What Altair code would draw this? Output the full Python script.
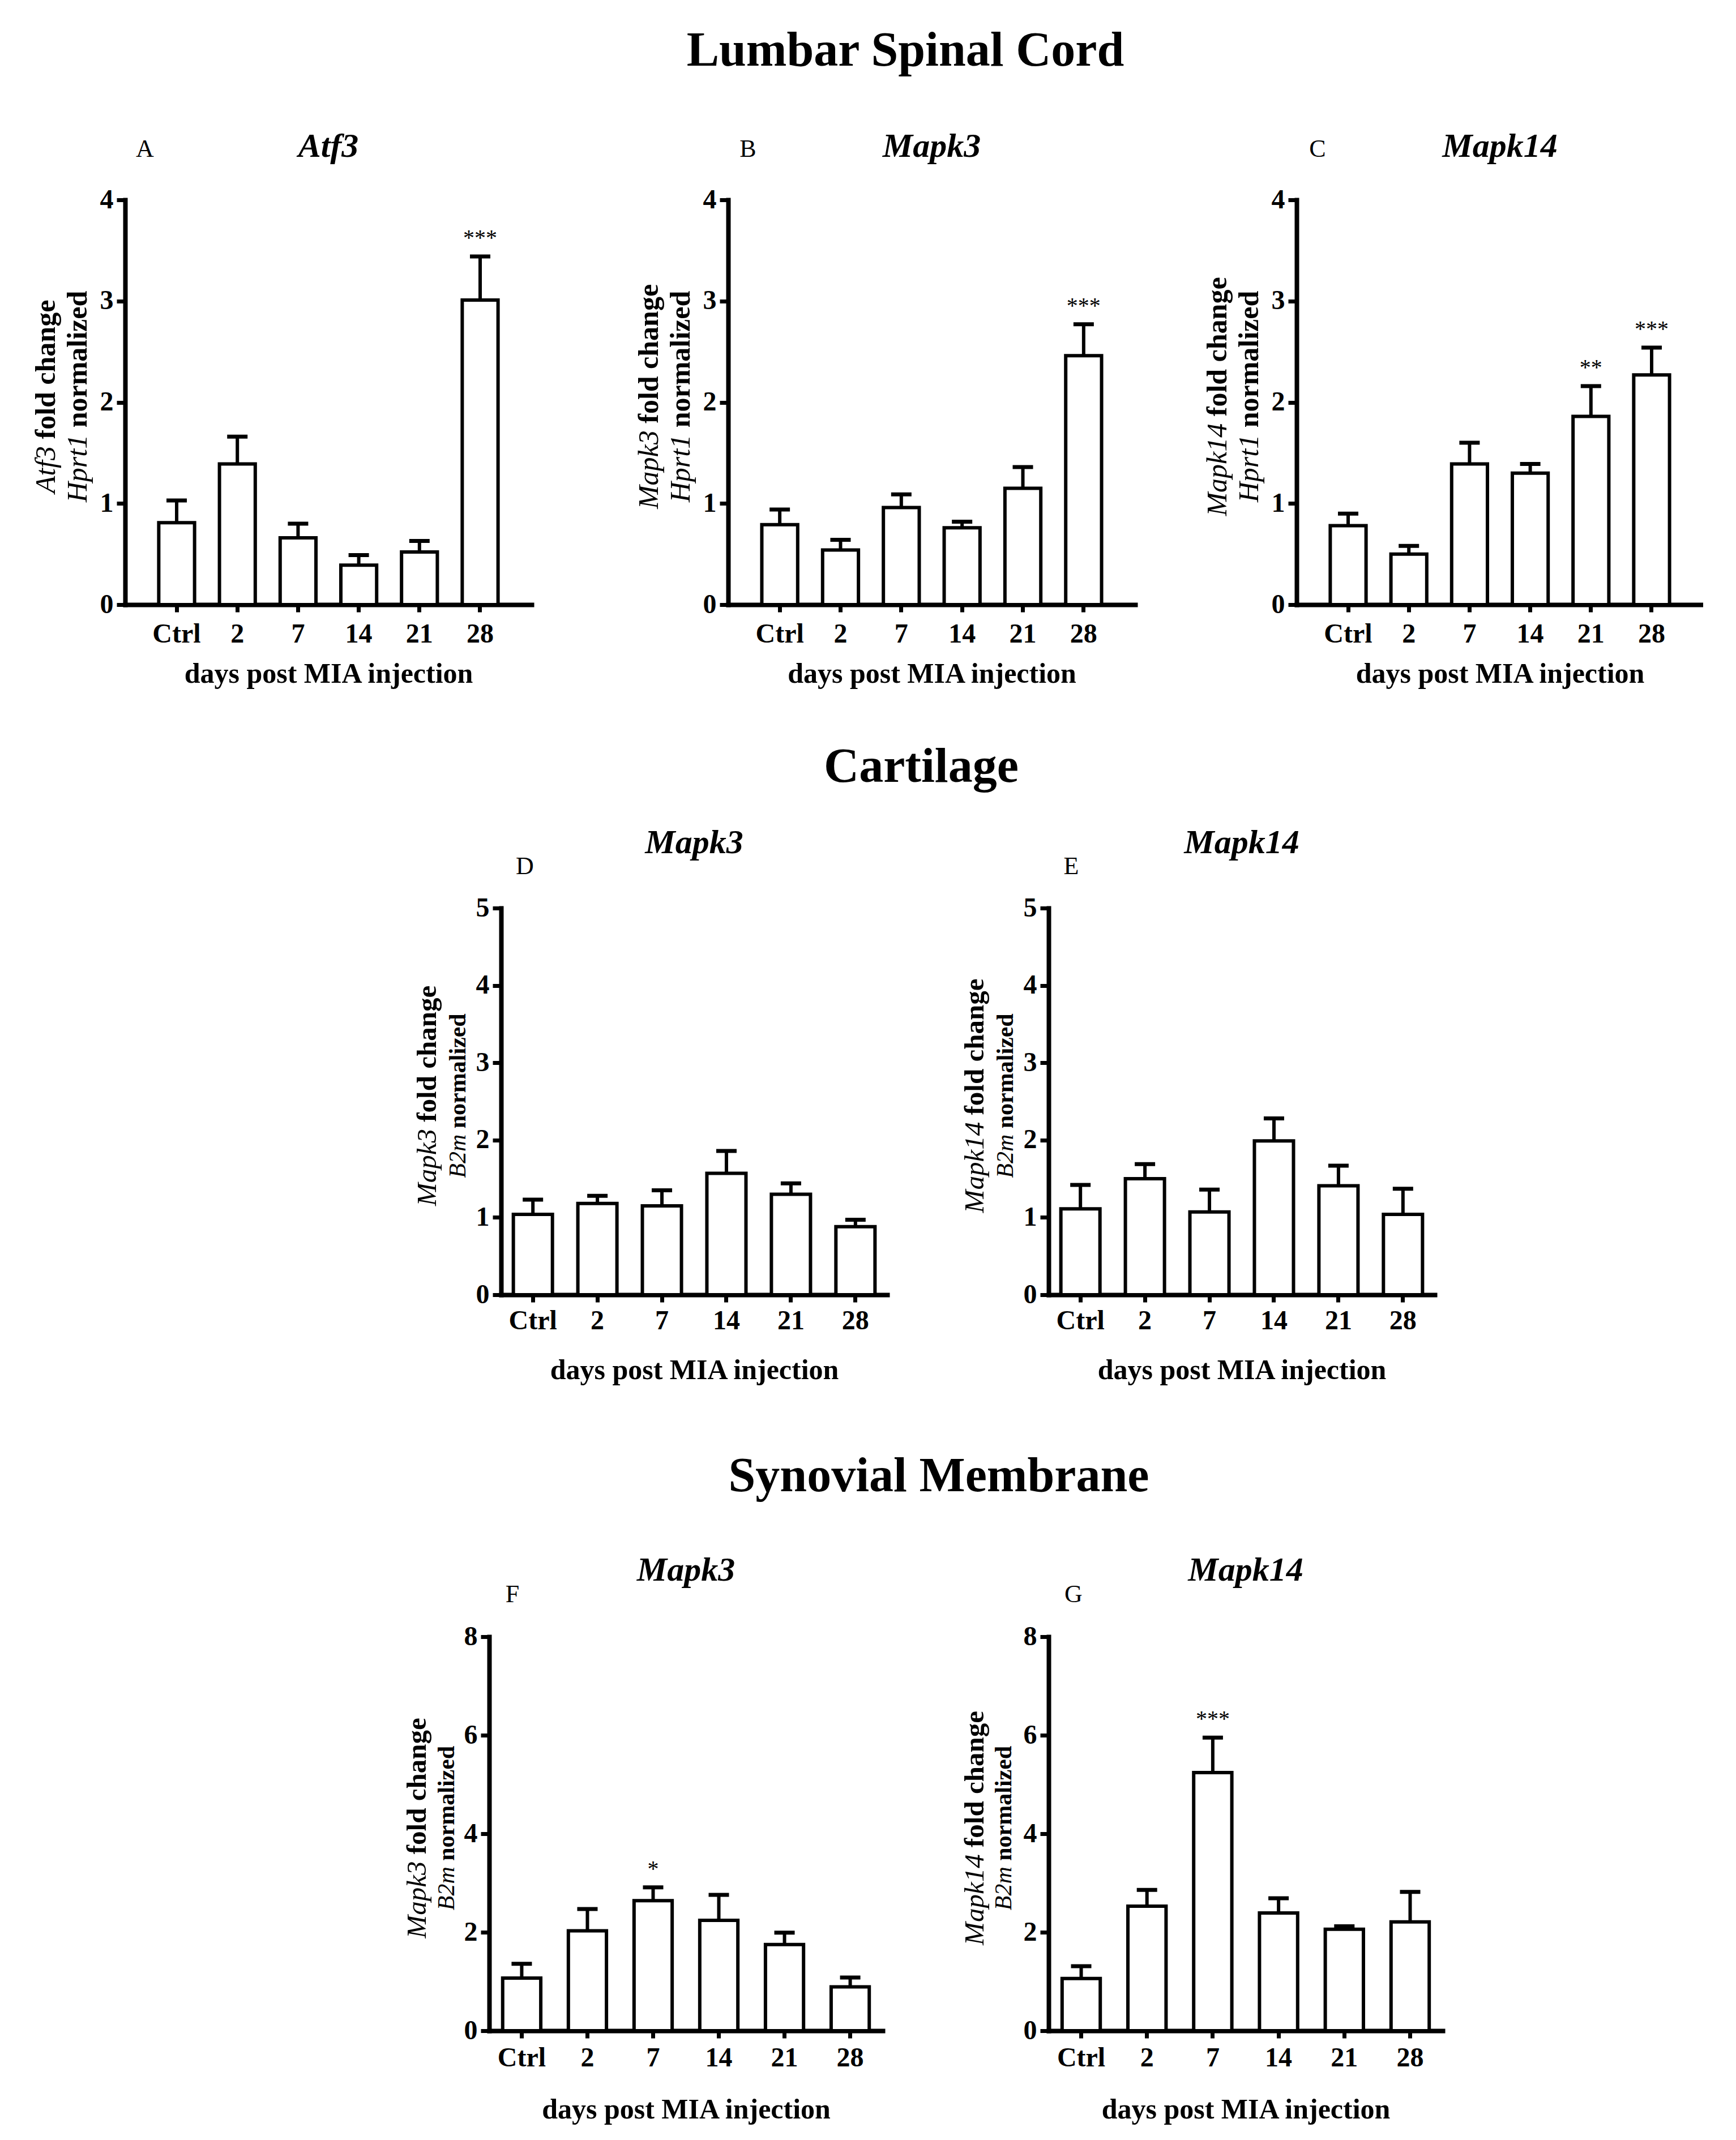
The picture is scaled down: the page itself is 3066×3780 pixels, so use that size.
import altair as alt
import pandas as pd

FONT = "Liberation Serif"

# ---------------- data ----------------
days = ["Ctrl", "2", "7", "14", "21", "28"]

# Lumbar spinal cord (Hprt1 normalized)
atf3_lsc_mean = [0.81, 1.39, 0.66, 0.39, 0.52, 3.01]
atf3_lsc_top = [1.03, 1.66, 0.80, 0.49, 0.63, 3.44]
atf3_lsc_sig = ["", "", "", "", "", "***"]

mapk3_lsc_mean = [0.79, 0.54, 0.96, 0.76, 1.15, 2.46]
mapk3_lsc_top = [0.94, 0.64, 1.09, 0.82, 1.36, 2.77]
mapk3_lsc_sig = ["", "", "", "", "", "***"]

mapk14_lsc_mean = [0.78, 0.50, 1.39, 1.30, 1.86, 2.27]
mapk14_lsc_top = [0.90, 0.58, 1.60, 1.39, 2.16, 2.54]
mapk14_lsc_sig = ["", "", "", "", "**", "***"]

# Cartilage (B2m normalized)
mapk3_cart_mean = [1.04, 1.18, 1.15, 1.57, 1.30, 0.88]
mapk3_cart_top = [1.23, 1.28, 1.35, 1.86, 1.44, 0.97]
mapk3_cart_sig = ["", "", "", "", "", ""]

mapk14_cart_mean = [1.11, 1.50, 1.07, 1.99, 1.41, 1.04]
mapk14_cart_top = [1.42, 1.69, 1.36, 2.28, 1.67, 1.37]
mapk14_cart_sig = ["", "", "", "", "", ""]

# Synovial membrane (B2m normalized)
mapk3_syn_mean = [1.07, 2.03, 2.64, 2.24, 1.75, 0.89]
mapk3_syn_top = [1.36, 2.47, 2.91, 2.76, 1.99, 1.08]
mapk3_syn_sig = ["", "", "*", "", "", ""]

mapk14_syn_mean = [1.06, 2.53, 5.24, 2.39, 2.06, 2.21]
mapk14_syn_top = [1.31, 2.86, 5.95, 2.69, 2.12, 2.82]
mapk14_syn_sig = ["", "", "***", "", "", ""]

ticks_lsc = [0, 1, 2, 3, 4]
ticks_cart = [0, 1, 2, 3, 4, 5]
ticks_syn = [0, 2, 4, 6, 8]

# ---------------- font metrics (Times-compatible) for mixed-style titles ----------------
ITAL = {'A': 611, 't': 278, 'f': 278, '3': 500, 'M': 833, 'a': 500, 'p': 500, 'k': 444,
        '1': 500, '4': 500, 'H': 722, 'r': 389, 'B': 611, '2': 500, 'm': 722, ' ': 250}
BOLD = {' ': 250, 'f': 333, 'o': 500, 'l': 278, 'd': 556, 'c': 444, 'h': 556, 'a': 500,
        'n': 556, 'g': 500, 'e': 444, 'r': 444, 'm': 833, 'i': 278, 'z': 444}


def tw(s, table, fs):
    return sum(table.get(c, 500) for c in s) / 1000.0 * fs


def txt(text, x, y, size, weight="normal", style="normal", angle=0, align="center",
        baseline="alphabetic"):
    return alt.Chart(pd.DataFrame({"k": [0]})).mark_text(
        text=text, font=FONT, fontSize=size, fontWeight=weight, fontStyle=style,
        angle=angle, align=align, baseline=baseline, color="black"
    ).encode(x=alt.value(x), y=alt.value(y))


def ytitle_line(gene, rest, fs, x, yc):
    w_it = tw(gene, ITAL, fs)
    w_sp = tw(" ", BOLD, fs)
    w_rest = tw(rest, BOLD, fs)
    start = yc + (w_it + w_sp + w_rest) / 2.0
    a = txt(gene, x, start, fs, weight="normal", style="italic", angle=270,
            align="left", baseline="middle")
    b = txt(rest, x, start - w_it - w_sp, fs, weight="bold", style="normal", angle=270,
            align="left", baseline="middle")
    return [a, b]


def panel(mean, top, sig, gene, norm, letter, ymax, yticks, W, H, pin, pout,
          fs1, fs2, x1, x2, gene_y, letter_x, letter_y, lab_pad, title_pad):
    df = pd.DataFrame({"day": days, "mean": mean, "top": top, "sig": sig})
    xs = alt.Scale(paddingInner=pin, paddingOuter=pout)
    ys = alt.Scale(domain=[0, ymax], nice=False, zero=True)
    xax = alt.Axis(title="days post MIA injection", labelAngle=0, labelPadding=lab_pad,
                   titlePadding=title_pad, labelFont=FONT, labelFontSize=48,
                   labelFontWeight="bold", labelColor="black", titleFont=FONT,
                   titleFontSize=50, titleFontWeight="bold", titleColor="black",
                   domainColor="black", domainWidth=8, domainCap="square",
                   tickColor="black", tickWidth=7, tickSize=13, grid=False,
                   labelOverlap=False)
    yax = alt.Axis(title=None, values=yticks, labelPadding=6, labelFont=FONT,
                   labelFontSize=48, labelFontWeight="bold", labelColor="black",
                   domainColor="black", domainWidth=8, domainCap="square",
                   tickColor="black", tickWidth=7, tickSize=15, grid=False)
    X = alt.X("day:N", sort=days, scale=xs, axis=xax)
    base = alt.Chart(df)
    bars = base.mark_bar(fill="white", stroke="black", strokeWidth=6).encode(
        x=X, y=alt.Y("mean:Q", scale=ys, axis=yax))
    whisk = base.mark_rule(color="black", strokeWidth=6).encode(
        x=X, y=alt.Y("mean:Q", scale=ys, axis=yax), y2="top:Q")
    caps = base.mark_tick(color="black", thickness=7, size=36, opacity=1).encode(
        x=X, y=alt.Y("top:Q", scale=ys, axis=yax))
    stars = base.mark_text(font=FONT, fontSize=40, dy=-20, baseline="alphabetic",
                           color="black").encode(
        x=X, y=alt.Y("top:Q", scale=ys, axis=yax), text="sig:N")
    yc = H / 2.0 - 10
    layers = [bars, whisk, caps, stars]
    layers += ytitle_line(gene, "fold change", fs1, x1, yc)
    layers += ytitle_line(norm, "normalized", fs2, x2, yc)
    layers.append(txt(gene, W / 2.0, gene_y, 60, weight="bold", style="italic"))
    layers.append(txt(letter, letter_x, letter_y, 44))
    return alt.layer(*layers).properties(width=W, height=H)


def spacer(w, h):
    return alt.Chart(pd.DataFrame({"k": [0]})).mark_point(opacity=0).encode(
        x=alt.value(0), y=alt.value(0)).properties(width=w, height=h)


def left_block(w, h, top_ext, bottom_ext, title, cx, by):
    frame = alt.Chart(pd.DataFrame({"k": [0]})).mark_rect(opacity=0).encode(
        x=alt.value(0), x2=alt.value(w), y=alt.value(-top_ext), y2=alt.value(h + bottom_ext))
    t = txt(title, cx, by, 86, weight="bold")
    return alt.layer(frame, t).properties(width=w, height=h)


# ---------------- layout ----------------
H1, H3, H5 = 715, 683, 696

pA = panel(atf3_lsc_mean, atf3_lsc_top, atf3_lsc_sig, "Atf3", "Hprt1", "A", 4, ticks_lsc,
           718, H1, 0.41, 0.554, 50, 50, -139, -83, -76, 35, -76, 15, 21)
pB = panel(mapk3_lsc_mean, mapk3_lsc_top, mapk3_lsc_sig, "Mapk3", "Hprt1", "B", 4, ticks_lsc,
           719, H1, 0.41, 0.554, 50, 50, -139, -83, -76, 35, -76, 15, 21)
pC = panel(mapk14_lsc_mean, mapk14_lsc_top, mapk14_lsc_sig, "Mapk14", "Hprt1", "C", 4, ticks_lsc,
           718, H1, 0.41, 0.554, 50, 50, -139, -83, -76, 37, -76, 15, 21)

pD = panel(mapk3_cart_mean, mapk3_cart_top, mapk3_cart_sig, "Mapk3", "B2m", "D", 5, ticks_cart,
           682, H3, 0.394, 0.19, 49, 42, -130, -76, -97, 42, -60, 9, 38)
pE = panel(mapk14_cart_mean, mapk14_cart_top, mapk14_cart_sig, "Mapk14", "B2m", "E", 5, ticks_cart,
           682, H3, 0.394, 0.19, 49, 42, -130, -76, -97, 40, -60, 9, 38)

pF = panel(mapk3_syn_mean, mapk3_syn_top, mapk3_syn_sig, "Mapk3", "B2m", "F", 8, ticks_syn,
           695, H5, 0.42, 0.205, 49, 42, -127, -75, -99, 41, -61, 11, 42)
pG = panel(mapk14_syn_mean, mapk14_syn_top, mapk14_syn_sig, "Mapk14", "B2m", "G", 8, ticks_syn,
           696, H5, 0.42, 0.205, 49, 42, -130, -79, -99, 44, -61, 11, 42)

row1 = alt.hconcat(
    left_block(213, H1, 345, 907 - H1, "Lumbar Spinal Cord", 1591, -237),
    pA, spacer(347, H1), pB, spacer(285, H1), pC,
    spacing=0, bounds="flush")
row2 = alt.hconcat(
    left_block(877, H3, 344, 896 - H3, "Cartilage", 1619, -223),
    pD, spacer(285, H3), pE,
    spacing=0, bounds="flush")
row3 = alt.hconcat(
    left_block(856, H5, 391, 879 - H5, "Synovial Membrane", 1650, -257),
    pF, spacer(293, H5), pG,
    spacing=0, bounds="flush")

chart = alt.vconcat(row1, row2, row3, spacing=0, bounds="full").properties(
    padding=0, background="white"
).configure_view(strokeWidth=0)

chart.save("out.html", embed_options={"renderer": "svg", "actions": False})
